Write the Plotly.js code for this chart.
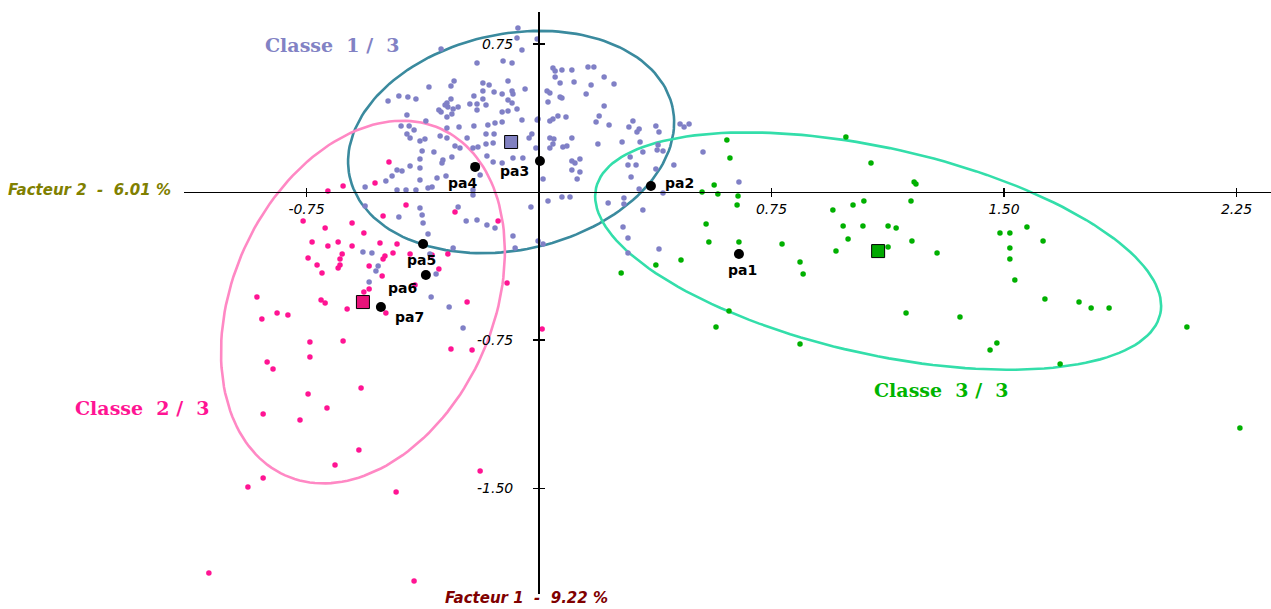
<!DOCTYPE html>
<html><head><meta charset="utf-8">
<script src="https://cdn.plot.ly/plotly-3.0.1.min.js"></script>
<style>html,body{margin:0;padding:0;background:#fff;}#chart{width:1271px;height:609px;}</style>
</head><body><div id="chart"></div>
<script>
// ---- Classe 1 / 3 (individus) ----
const classe1X = [
-0.068,-0.071,-0.006,-0.055,-0.316,-0.200,-0.116,-0.087,-0.274,-0.284,
-0.355,-0.181,-0.161,-0.100,-0.045,-0.087,-0.084,-0.119,-0.145,-0.181,
-0.210,-0.181,-0.284,-0.487,-0.452,-0.423,-0.397,-0.297,-0.303,-0.294,
-0.323,-0.316,-0.277,-0.261,-0.223,-0.200,-0.171,-0.100,-0.087,-0.071,
-0.100,-0.119,-0.200,-0.426,-0.281,-0.297,-0.365,-0.445,-0.419,-0.403,
-0.258,-0.210,-0.165,-0.142,-0.119,-0.055,-0.006,-0.426,-0.416,-0.297,
-0.232,-0.171,-0.145,-0.023,-0.032,-0.368,-0.319,-0.297,0.045,0.052,
0.074,0.106,0.158,0.177,0.052,0.068,0.113,0.210,0.168,0.242,
0.026,0.035,0.068,0.074,0.152,0.029,0.210,-0.003,0.035,0.045,
0.061,0.087,0.194,0.184,0.226,0.303,0.290,0.323,0.316,0.377,
0.387,0.455,0.468,0.484,0.035,0.048,0.106,-0.384,-0.171,-0.148,
-0.271,-0.255,-0.213,-0.197,-0.377,-0.339,-0.281,-0.168,-0.084,-0.052,
-0.010,-0.148,-0.119,-0.310,-0.313,-0.384,-0.416,-0.458,-0.442,-0.384,
-0.474,-0.494,-0.329,-0.300,-0.384,-0.190,-0.561,-0.458,-0.429,-0.397,
-0.358,-0.345,-0.213,-0.213,-0.561,-0.384,-0.261,-0.026,-0.452,-0.377,
-0.374,-0.235,-0.200,-0.168,-0.142,-0.358,-0.084,-0.003,-0.277,-0.077,
-0.568,-0.539,-0.352,0.045,0.035,0.077,0.090,0.190,0.268,0.326,
0.384,0.381,0.400,0.529,0.335,0.294,0.106,0.116,0.132,0.287,
0.313,0.377,0.435,0.106,0.132,0.013,0.123,0.297,0.323,0.400,
0.029,0.074,0.100,0.223,0.274,0.274,0.335,0.271,0.287,0.013,
0.387,0.287,0.645,-0.519,-0.526,-0.548,-0.332,-0.348,-0.290,-0.245];
const classe1Y = [
0.830,0.779,0.774,0.719,0.724,0.653,0.663,0.653,0.562,0.536,
0.531,0.552,0.541,0.562,0.521,0.511,0.496,0.496,0.506,0.511,
0.486,0.471,0.471,0.461,0.486,0.481,0.471,0.450,0.440,0.430,
0.415,0.405,0.420,0.430,0.445,0.445,0.440,0.466,0.450,0.420,
0.410,0.405,0.415,0.390,0.395,0.380,0.359,0.334,0.334,0.314,
0.329,0.334,0.339,0.349,0.354,0.364,0.364,0.294,0.273,0.324,
0.273,0.294,0.294,0.294,0.273,0.268,0.283,0.273,0.628,0.612,
0.617,0.617,0.633,0.633,0.582,0.552,0.557,0.582,0.541,0.547,
0.511,0.501,0.481,0.476,0.496,0.455,0.435,0.369,0.359,0.369,
0.385,0.380,0.385,0.354,0.339,0.359,0.329,0.319,0.304,0.334,
0.304,0.344,0.329,0.344,0.273,0.268,0.273,0.258,0.243,0.248,
0.233,0.223,0.223,0.228,0.207,0.202,0.177,0.182,0.172,0.172,
0.223,0.152,0.147,0.162,0.147,0.167,0.132,0.111,0.106,0.121,
0.081,0.056,0.071,0.081,0.061,0.086,0.025,0.010,0.010,0.010,
0.020,0.025,0.010,-0.015,-0.071,-0.081,-0.076,-0.076,-0.127,-0.116,
-0.157,-0.147,-0.142,-0.167,-0.182,-0.213,-0.223,-0.248,-0.283,-0.283,
-0.304,-0.309,-0.314,0.243,0.223,0.228,0.233,0.243,0.253,0.253,
0.238,0.213,0.207,0.202,0.202,0.177,0.157,0.147,0.167,0.137,
0.137,0.116,0.137,0.111,0.101,0.066,0.066,0.076,0.015,-0.005,
-0.046,-0.025,-0.025,-0.056,-0.030,-0.061,-0.091,-0.177,-0.233,-0.263,
-0.288,-0.309,0.051,-0.374,-0.400,-0.455,-0.415,-0.531,-0.582,-0.688];

// ---- Classe 2 / 3 ----
const classe2X = [
-0.484,-0.529,-0.632,-0.681,-0.429,-0.271,-0.503,-0.603,-0.565,-0.513,
-0.458,-0.132,-0.603,-0.497,-0.471,-0.503,-0.416,-0.345,-0.294,-0.635,
-0.548,-0.506,-0.323,-0.548,-0.565,-0.400,-0.103,-0.232,-0.494,0.010,
-0.284,-0.216,-0.761,-0.690,-0.732,-0.681,-0.648,-0.745,-0.642,-0.716,
-0.642,-0.648,-0.700,-0.910,-0.703,-0.690,-0.619,-0.845,-0.810,-0.894,
-0.739,-0.632,-0.877,-0.858,-0.739,-0.574,-0.745,-0.684,-0.890,-0.771,
-0.581,-0.658,-0.190,-0.890,-0.939,-0.461,-1.065,-0.403];
const classe2Y = [
0.152,0.046,0.030,0.005,-0.066,-0.101,-0.121,-0.157,-0.207,-0.258,
-0.263,-0.147,-0.273,-0.324,-0.309,-0.339,-0.314,-0.319,-0.314,-0.314,
-0.374,-0.425,-0.390,-0.491,-0.506,-0.471,-0.461,-0.557,-0.612,-0.693,
-0.795,-0.800,-0.147,-0.182,-0.253,-0.273,-0.253,-0.334,-0.339,-0.369,
-0.369,-0.385,-0.410,-0.531,-0.547,-0.562,-0.592,-0.612,-0.622,-0.643,
-0.759,-0.754,-0.860,-0.896,-0.835,-0.992,-1.022,-1.093,-1.123,-1.154,
-1.306,-1.382,-1.412,-1.447,-1.493,-1.518,-1.928,-1.969];

// ---- Classe 3 / 3 ----
const classe3X = [
0.606,0.990,0.616,1.071,1.210,1.216,0.565,0.526,0.577,0.642,
0.639,1.048,1.013,1.200,0.948,0.539,0.981,1.045,1.126,1.152,
0.997,1.203,0.548,0.645,0.784,1.126,0.958,0.458,0.377,0.265,
0.842,0.852,0.613,0.571,0.842,1.184,1.487,1.519,1.574,1.626,
1.284,1.519,1.519,1.535,1.632,1.742,1.781,1.839,1.358,1.477,
1.455,1.681,2.090,2.261];
const classe3Y = [
0.263,0.278,0.172,0.147,0.051,0.040,0.035,0.000,-0.010,-0.020,
-0.066,-0.046,-0.066,-0.046,-0.091,-0.162,-0.172,-0.172,-0.172,-0.182,
-0.238,-0.248,-0.253,-0.253,-0.263,-0.278,-0.299,-0.344,-0.369,-0.410,
-0.354,-0.415,-0.602,-0.683,-0.769,-0.612,-0.207,-0.207,-0.177,-0.248,
-0.309,-0.283,-0.339,-0.445,-0.541,-0.557,-0.587,-0.587,-0.633,-0.764,
-0.800,-0.870,-0.683,-1.194];

// ---- Individus illustratifs ----
const indivNames = ['pa1','pa2','pa3','pa4','pa5','pa6','pa7'];
const indivX = [0.645, 0.361, 0.003, -0.206, -0.374, -0.365, -0.510];
const indivY = [-0.314, 0.030, 0.157, 0.127, -0.263, -0.420, -0.582];

// ---- Centres de classes et ellipses (demi-diamètres conjugués) ----
const classNames = ['Classe\u00a0\u00a01\u00a0/\u00a0\u00a03','Classe\u00a0\u00a02\u00a0/\u00a0\u00a03','Classe\u00a0\u00a03\u00a0/\u00a0\u00a03'];
const centreX = [-0.090, -0.568, 1.094];
const centreY = [0.253, -0.557, -0.299];
const ellipseUX = [0.521, 0.251, 0.910];
const ellipseUY = [0.174, 0.877, -0.319];
const ellipseVX = [0.072, 0.383, -0.073];
const ellipseVY = [-0.535, -0.270, -0.509];

// ---- Axes ----
const xTickVals = [-0.75, 0.75, 1.5, 2.25];
const xTickText = ['-0.75', '0.75', '1.50', '2.25'];
const yTickVals = [0.75, -0.75, -1.5];
const yTickText = ['0.75', '-0.75', '-1.50'];
const axisTitleX = 'Facteur 1\u00a0\u00a0-\u00a0\u00a09.22 %';
const axisTitleY = 'Facteur 2\u00a0\u00a0-\u00a0\u00a06.01 %';

// ---- styles ----
const W = 1271, H = 609;
const pointColors = ['#8080c6', '#ff1493', '#00b000'];
const centreColors = ['#8080c0', '#e8137a', '#00a800'];
const ellipseColors = ['#3a8a9e', '#ff88c4', '#33deaa'];
const labelColors = ['#8282c4', '#ff1493', '#00b400'];
const labelPos = [[332, 45], [142, 408], [942, 390]];
const indivLabelShift = [[4,-16],[29,3],[-25,-10],[-13,-16],[-2,-16],[-23,-13],[29,-10]];

const xDomain = [184 / W, 1];
const yDomain = [15 / H, 1 - 12 / H];
const xRange = [-1.1452, 2.3613];
const yRange = [-2.0344, 0.9109];
const xAxisPos = yDomain[0] + (0 - yRange[0]) / (yRange[1] - yRange[0]) * (yDomain[1] - yDomain[0]);
const yAxisPos = xDomain[0] + (0 - xRange[0]) / (xRange[1] - xRange[0]) * (xDomain[1] - xDomain[0]);

function ellipsePath(i) {
  const xs = [], ys = [];
  const n = 160;
  for (let k = 0; k <= n; k++) {
    const t = 2 * Math.PI * k / n;
    xs.push(centreX[i] + Math.cos(t) * ellipseUX[i] + Math.sin(t) * ellipseVX[i]);
    ys.push(centreY[i] + Math.cos(t) * ellipseUY[i] + Math.sin(t) * ellipseVY[i]);
  }
  return {xs, ys};
}

const traces = [];
[0, 1, 2].forEach(i => {
  const e = ellipsePath(i);
  traces.push({type: 'scatter', mode: 'lines', x: e.xs, y: e.ys,
    line: {color: ellipseColors[i], width: 2.6}, hoverinfo: 'skip'});
});
const classSets = [[classe2X, classe2Y, 1], [classe1X, classe1Y, 0], [classe3X, classe3Y, 2]];
classSets.forEach(([xs, ys, c]) => {
  traces.push({type: 'scatter', mode: 'markers', x: xs, y: ys,
    marker: {color: pointColors[c], size: 5.5, line: {width: 0}}, hoverinfo: 'skip'});
});
traces.push({type: 'scatter', mode: 'markers', x: centreX, y: centreY,
  marker: {symbol: 'square', size: 13, color: centreColors, line: {color: '#000', width: 1}}});
traces.push({type: 'scatter', mode: 'markers', x: indivX, y: indivY,
  marker: {color: '#000', size: 10}});
traces.push({type: 'scatter', x: [], y: [], xaxis: 'x2', yaxis: 'y2', hoverinfo: 'skip'});

const tickFont = {family: 'DejaVu Sans', size: 14, style: 'italic', color: '#000'};
const annotations = [];
classNames.forEach((t, i) => annotations.push({
  text: t, xref: 'paper', yref: 'paper', x: labelPos[i][0] / W, y: 1 - labelPos[i][1] / H,
  xanchor: 'center', yanchor: 'middle', showarrow: false,
  font: {family: 'DejaVu Serif', size: 19, weight: 'bold', color: labelColors[i]}
}));
indivNames.forEach((t, i) => annotations.push({
  text: t, x: indivX[i], y: indivY[i], xref: 'x', yref: 'y', showarrow: false,
  xshift: indivLabelShift[i][0], yshift: indivLabelShift[i][1],
  font: {family: 'DejaVu Sans', size: 14, weight: 'bold', color: '#000'}
}));
annotations.push({text: axisTitleY, xref: 'paper', yref: 'paper', x: 6 / W, y: 1 - 190 / H,
  xanchor: 'left', yanchor: 'middle', showarrow: false,
  font: {family: 'DejaVu Sans', size: 15, weight: 'bold', style: 'italic', color: '#808000'}});
annotations.push({text: axisTitleX, xref: 'paper', yref: 'paper', x: 526 / W, y: 0,
  xanchor: 'center', yanchor: 'bottom', showarrow: false,
  font: {family: 'DejaVu Sans', size: 15, weight: 'bold', style: 'italic', color: '#800000'}});

const layout = {
  width: W, height: H, margin: {l: 0, r: 0, t: 0, b: 0, pad: 0},
  paper_bgcolor: '#fff', plot_bgcolor: '#fff', showlegend: false,
  xaxis: {domain: xDomain, range: xRange, anchor: 'free', position: xAxisPos,
    showline: true, linecolor: '#000', linewidth: 1.5, zeroline: false, showgrid: false,
    ticks: 'outside', ticklen: 4, tickwidth: 1.5, tickcolor: '#000',
    tickvals: xTickVals, ticktext: xTickText, tickfont: tickFont},
  xaxis2: {overlaying: 'x', range: xRange, anchor: 'free', position: xAxisPos,
    showline: false, zeroline: false, showgrid: false, ticks: 'inside', ticklen: 4,
    tickwidth: 1.5, tickcolor: '#000', tickvals: xTickVals, showticklabels: false},
  yaxis: {domain: yDomain, range: yRange, anchor: 'free', position: yAxisPos,
    showline: true, linecolor: '#000', linewidth: 2, zeroline: false, showgrid: false,
    ticks: 'outside', ticklen: 5, tickwidth: 1.5, tickcolor: '#000',
    tickvals: yTickVals, ticktext: yTickText, tickfont: tickFont, ticklabelstandoff: 17},
  yaxis2: {overlaying: 'y', range: yRange, anchor: 'free', position: yAxisPos,
    showline: false, zeroline: false, showgrid: false, ticks: 'inside', ticklen: 5,
    tickwidth: 1.5, tickcolor: '#000', tickvals: yTickVals, showticklabels: false},
  annotations: annotations
};

Plotly.newPlot('chart', traces, layout, {staticPlot: true, displayModeBar: false});
</script>
</body></html>
